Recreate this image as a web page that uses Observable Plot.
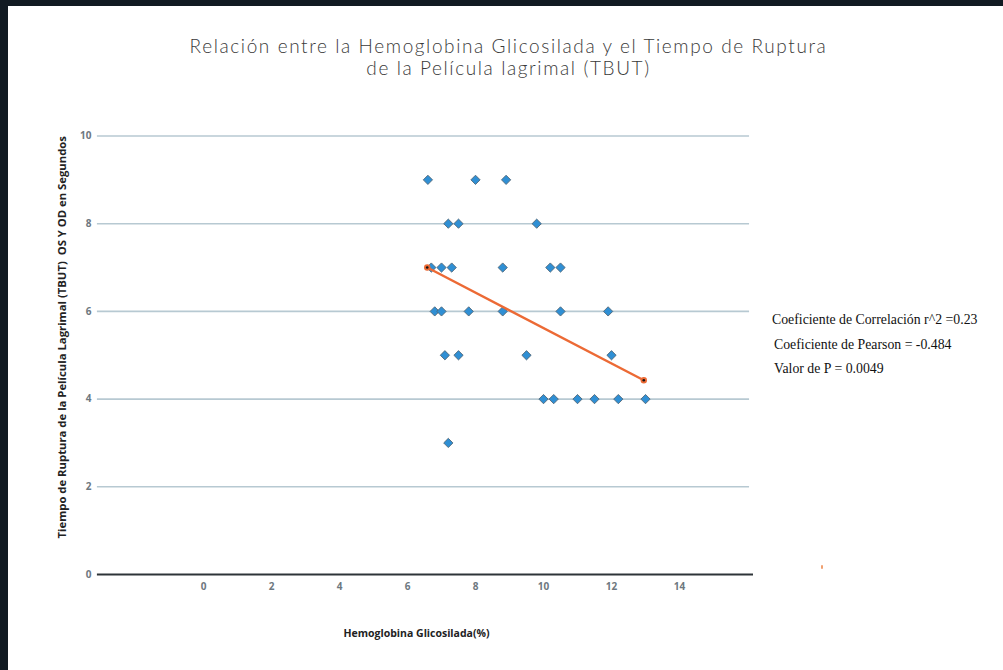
<!DOCTYPE html>
<html>
<head>
<meta charset="utf-8">
<script src="https://cdn.jsdelivr.net/npm/d3@7"></script>
<script src="https://cdn.jsdelivr.net/npm/@observablehq/plot@0.6"></script>
<style>
  html, body { margin: 0; padding: 0; background: #ffffff; }
  #page { position: relative; width: 1003px; height: 670px; overflow: hidden; background: #ffffff; }
  #frameTop { position: absolute; left: 0; top: 0; width: 1003px; height: 6px; background: #111a22; }
  #frameLeft { position: absolute; left: 0; top: 0; width: 8px; height: 670px; background: #111a22; }
  #title { position: absolute; left: 0; top: 35px; width: 1017px; text-align: center;
           font-family: Lato, sans-serif; font-weight: 300; font-size: 19px; line-height: 22px;
           letter-spacing: 1.6px; color: #3a3a3a; }
  #chart { position: absolute; left: 0; top: 0; }
  .stat { position: absolute; font-family: "Liberation Serif", "Times New Roman", serif; font-size: 13.8px; color: #111; white-space: nowrap; }
  #speck { position: absolute; left: 821px; top: 565px; width: 2px; height: 4px; background: #f0a070; border-radius: 1px; }
</style>
</head>
<body>
<div id="page">
  <div id="chart"></div>
  <div id="frameTop"></div>
  <div id="frameLeft"></div>
  <div id="title">Relación entre la Hemoglobina Glicosilada y el Tiempo de Ruptura<br>de la Película lagrimal (TBUT)</div>
  <div class="stat" id="s1" style="left:772px; top:312px;"></div>
  <div class="stat" id="s2" style="left:774px; top:337px;"></div>
  <div class="stat" id="s3" style="left:774px; top:361px;"></div>
  <div id="speck"></div>
</div>
<script>
// ---- data ----
const hba1c = [6.6, 8.0, 8.9, 7.2, 7.5, 9.8, 6.7, 7.0, 7.3, 8.8, 10.2, 10.5, 6.8, 7.0, 7.8, 8.8, 10.5, 11.9, 7.1, 7.5, 9.5, 12.0, 10.0, 10.3, 11.0, 11.5, 12.2, 13.0, 7.2];
const tbut  = [9, 9, 9, 8, 8, 8, 7, 7, 7, 7, 7, 7, 6, 6, 6, 6, 6, 6, 5, 5, 5, 5, 4, 4, 4, 4, 4, 4, 3];
const trendX = [6.58, 12.95];
const trendY = [7.0, 4.43];
const xTicks = [0, 2, 4, 6, 8, 10, 12, 14];
const yTicks = [0, 2, 4, 6, 8, 10];
const gridValues = [2, 4, 6, 8, 10];
const statLines = ["Coeficiente de Correlación r^2 =0.23", "Coeficiente de Pearson = -0.484", "Valor de P = 0.0049"];
const xLabel = "Hemoglobina Glicosilada(%)";
const yLabel = "Tiempo de Ruptura de la Película Lagrimal (TBUT)  OS Y OD en Segundos";

const points = hba1c.map((x, i) => ({x, y: tbut[i]}));
const trend = trendX.map((x, i) => ({x, y: trendY[i]}));

const chart = Plot.plot({
  width: 1003,
  height: 670,
  marginLeft: 93,
  marginRight: 250,
  marginTop: 135.5,
  marginBottom: 96,
  style: {background: "transparent", fontFamily: "Open Sans, sans-serif", overflow: "visible"},
  x: {domain: [-3.235, 16.176]},
  y: {domain: [0, 10]},
  marks: [
    Plot.ruleY(gridValues, {x1: -3.12, x2: 16.06, stroke: "#b7c9d2", strokeWidth: 1.6}),
    Plot.ruleY([0], {x1: -3.12, x2: 16.176, stroke: "#2e3438", strokeWidth: 2.2}),
    Plot.axisX({ticks: xTicks, tickSize: 0, tickPadding: 8, label: null, fill: "#6e7880",
                fontSize: 10, fontWeight: "bold"}),
    Plot.axisY({ticks: yTicks, tickSize: 0, tickPadding: 2, label: null, fill: "#6e7880",
                fontSize: 10, fontWeight: "bold"}),
    Plot.dot(points, {x: "x", y: "y", symbol: "square", rotate: 45, r: 3.7,
                      fill: "#2f8fd4", stroke: "#4f6372", strokeWidth: 0.8}),
    Plot.line(trend, {x: "x", y: "y", stroke: "#ec6a35", strokeWidth: 2.4}),
    Plot.dot(trend, {x: "x", y: "y", r: 3.2, fill: "#ec6a35"}),
    Plot.dot(trend, {x: "x", y: "y", r: 1.3, fill: "#111"}),
    Plot.text([xLabel], {frameAnchor: "bottom", dx: -7, dy: 62, fontSize: 10.5, fontWeight: "bold", fill: "#222"}),
    Plot.text([yLabel], {frameAnchor: "left", textAnchor: "middle", dx: -31, dy: -18, rotate: -90,
                         fontSize: 11.3, fontWeight: "bold", fill: "#222"})
  ]
});
document.getElementById("chart").appendChild(chart);
document.getElementById("s1").textContent = statLines[0];
document.getElementById("s2").textContent = statLines[1];
document.getElementById("s3").textContent = statLines[2];
</script>
</body>
</html>
